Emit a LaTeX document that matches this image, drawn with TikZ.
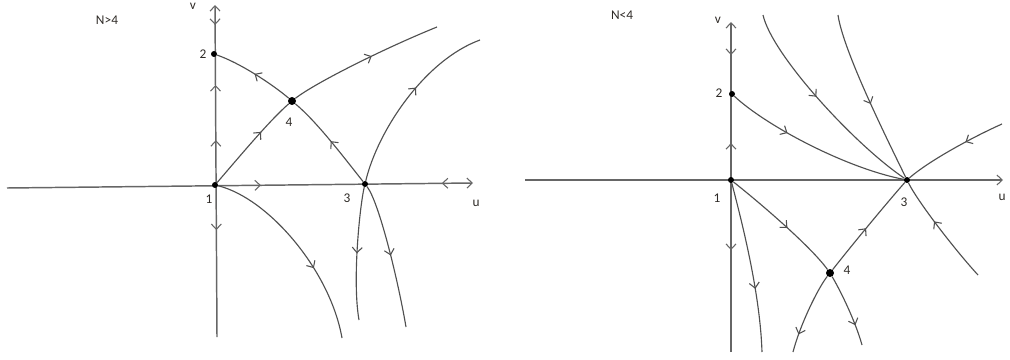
\documentclass[tikz,border=0pt]{standalone}
\usepackage{fontspec}
\setmainfont{Carlito}
\usetikzlibrary{arrows.meta,decorations.markings}
\definecolor{cgray}{HTML}{505050}
\definecolor{agray}{HTML}{666666}
\definecolor{tcol}{HTML}{2E2A26}
\tikzset{
  barb/.tip={Straight Barb[length=4pt,width=7.5pt,line width=0.8pt]},
  fl/.style={postaction={decorate,decoration={markings,mark=at position #1 with {\arrow{barb}}}}},
  bl/.style={postaction={decorate,decoration={markings,mark=at position #1 with {\arrowreversed{barb}}}}},
  curve/.style={color=cgray,line width=0.85pt},
  axis/.style={color=agray,line width=1.1pt},
  dot/.style={circle,fill=black,inner sep=0pt,minimum size=4.5pt},
  bigdot/.style={circle,fill=black,inner sep=0pt,minimum size=6pt},
  lab/.style={text=tcol,font=\fontsize{10}{12}\selectfont,inner sep=0pt},
}
\begin{document}
\begin{tikzpicture}[x=0.75pt,y=-0.75pt]
\useasboundingbox (0,0) rectangle (1010,360);

% ================= LEFT: N>4 =================
\coordinate (LH0) at (7,188);
\coordinate (LH1) at (473,183);
\coordinate (LV0) at (217,337);
\coordinate (LV1) at (215,5);
\coordinate (EA) at (406,327);
\coordinate (EB) at (437,27);
\coordinate (EC1) at (480,40);
\coordinate (EC2) at (359,320);
\coordinate (ED) at (342,338);

\draw[axis,-{barb},fl=0.545,bl=0.933] (LH0) -- (LH1);
\draw[axis,-{barb},bl=0.94,fl=0.759,fl=0.593,bl=0.322] (LV0) -- (LV1);

\node[dot] (L1) at (215,185) {};
\node[dot] (L2) at (214,54) {};
\node[dot] (L3) at (365,184) {};
\node[bigdot] (L4) at (292,101) {};

\draw[curve,fl=0.5] (L4) .. controls (272,84) and (240,63) .. (L2);
\draw[curve,fl=0.5] (L3) .. controls (342,155) and (317,122) .. (L4);
\draw[curve,fl=0.5] (L3) .. controls (379,202) and (398,280) .. (EA);
\draw[curve,fl=0.63] (L1) .. controls (240,156) and (270,120) .. (L4);
\draw[curve,fl=0.55] (L4) .. controls (315,83) and (385,48) .. (EB);
\draw[curve,fl=0.57] (L3) .. controls (378,130) and (425,60) .. (EC1);
\draw[curve,fl=0.5] (L3) .. controls (360,205) and (352,280) .. (EC2);
\draw[curve,fl=0.63] (L1) .. controls (268,198) and (330,270) .. (ED);

\node[lab] (tN1) at (107,20) {N>4};
\node[lab] (tv1) at (193,6) {v};
\node[lab] (tu1) at (476,203) {u};
\node[lab] (t11) at (209,199) {1};
\node[lab] (t21) at (203,54) {2};
\node[lab] (t31) at (347,198) {3};
\node[lab] (t41) at (289,122) {4};

% ================= RIGHT: N<4 =================
\coordinate (RH0) at (525,180);
\coordinate (RH1) at (1003,180);
\coordinate (RV0) at (731,352);
\coordinate (RV1) at (731,22);
\coordinate (EF1) at (763,15);
\coordinate (EF2) at (838,15);
\coordinate (EF3) at (1002,124);
\coordinate (EF4) at (978,275);
\coordinate (EG1) at (793,352);
\coordinate (EG2) at (862,345);
\coordinate (EH) at (762,352);

\draw[axis,-{barb}] (RH0) -- (RH1);
\draw[axis,-{barb},bl=0.9,fl=0.633,bl=0.309] (RV0) -- (RV1);

\node[dot] (R1) at (731,180) {};
\node[dot] (R2) at (732,94) {};
\node[dot] (R3) at (907,180) {};
\node[bigdot] (R4) at (830,273) {};

\draw[curve,fl=0.34] (R2) .. controls (765,125) and (845,168) .. (R3);
\draw[curve,fl=0.45] (EF1) .. controls (772,55) and (855,145) .. (R3);
\draw[curve,fl=0.54] (EF2) .. controls (843,50) and (885,135) .. (R3);
\draw[curve,fl=0.38] (EF3) .. controls (975,136) and (930,160) .. (R3);
\draw[curve,fl=0.6] (EF4) .. controls (955,250) and (918,202) .. (R3);
\draw[curve,fl=0.47] (R4) .. controls (852,245) and (885,205) .. (R3);
\draw[curve,fl=0.55] (R1) .. controls (765,207) and (812,248) .. (R4);
\draw[curve,fl=0.78] (R4) .. controls (818,288) and (800,325) .. (EG1);
\draw[curve,fl=0.72] (R4) .. controls (840,290) and (855,320) .. (EG2);
\draw[curve,fl=0.63] (R1) .. controls (740,215) and (760,290) .. (EH);

\node[lab] (tN2) at (622,15) {N<4};
\node[lab] (tv2) at (718,20) {v};
\node[lab] (tu2) at (1002,197) {u};
\node[lab] (t12) at (717,198) {1};
\node[lab] (t22) at (719,93) {2};
\node[lab] (t32) at (904,202) {3};
\node[lab] (t42) at (847,270) {4};
\end{tikzpicture}
\end{document}
